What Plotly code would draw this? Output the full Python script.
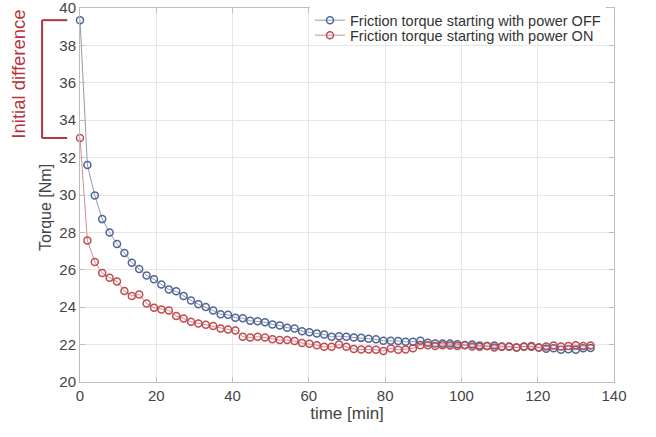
import plotly.graph_objects as go

time_min = [0.0, 1.94, 3.88, 5.82, 7.76, 9.7, 11.64, 13.58, 15.52, 17.46,
            19.4, 21.34, 23.28, 25.22, 27.16, 29.1, 31.04, 32.98, 34.92, 36.86,
            38.8, 40.74, 42.68, 44.62, 46.56, 48.5, 50.44, 52.38, 54.32, 56.26,
            58.2, 60.14, 62.08, 64.02, 65.96, 67.9, 69.84, 71.78, 73.72, 75.66,
            77.6, 79.54, 81.48, 83.42, 85.36, 87.3, 89.24, 91.18, 93.12, 95.06,
            97.0, 98.94, 100.88, 102.82, 104.76, 106.7, 108.64, 110.58, 112.52, 114.46,
            116.4, 118.34, 120.28, 122.22, 124.16, 126.1, 128.04, 129.98, 131.92, 133.86]

torque_power_off = [39.35, 31.61, 29.97, 28.71, 28.0, 27.38, 26.9, 26.38, 26.04, 25.69,
                    25.49, 25.22, 24.95, 24.85, 24.6, 24.36, 24.16, 24.01, 23.82, 23.62,
                    23.6, 23.44, 23.41, 23.27, 23.25, 23.2, 23.08, 23.02, 22.9, 22.86,
                    22.72, 22.66, 22.6, 22.54, 22.42, 22.45, 22.42, 22.38, 22.36, 22.31,
                    22.28, 22.2, 22.2, 22.19, 22.15, 22.15, 22.2, 22.1, 22.06, 22.06,
                    22.06, 22.02, 21.98, 22.0, 21.95, 21.92, 21.95, 21.9, 21.88, 21.85,
                    21.9, 21.88, 21.85, 21.78, 21.8, 21.72, 21.75, 21.72, 21.8, 21.82]

torque_power_on = [33.05, 27.57, 26.42, 25.83, 25.58, 25.37, 24.87, 24.6, 24.68, 24.2,
                   23.97, 23.88, 23.83, 23.53, 23.4, 23.22, 23.13, 23.06, 22.99, 22.86,
                   22.81, 22.76, 22.42, 22.38, 22.42, 22.38, 22.29, 22.24, 22.24, 22.19,
                   22.08, 22.04, 21.97, 21.88, 21.88, 22.0, 21.88, 21.76, 21.74, 21.74,
                   21.72, 21.66, 21.79, 21.72, 21.74, 21.8, 21.97, 21.97, 21.92, 21.97,
                   21.95, 21.93, 21.97, 21.9, 21.88, 21.92, 21.85, 21.88, 21.9, 21.85,
                   21.88, 21.92, 21.85, 21.9, 21.95, 21.9, 21.93, 21.97, 21.92, 21.95]

series_names = ["Friction torque starting with power OFF",
                "Friction torque starting with power ON"]
x_ticks = [0, 20, 40, 60, 80, 100, 120, 140]
y_ticks = [20, 22, 24, 26, 28, 30, 32, 34, 36, 38, 40]

BLUE = "#4f6596"
RED = "#c04a50"
FONT = "Liberation Sans, Arial, sans-serif"

fig = go.Figure()
fig.add_trace(go.Scatter(
    x=time_min, y=torque_power_off, name=series_names[0], mode="lines+markers",
    line=dict(color="rgba(125,135,160,0.85)", width=1),
    marker=dict(symbol="circle-open", size=7, color=BLUE, line=dict(width=1.5, color=BLUE)),
    cliponaxis=False, legend="legend",
))
fig.add_trace(go.Scatter(
    x=time_min, y=torque_power_on, name=series_names[1], mode="lines+markers",
    line=dict(color="rgba(200,120,125,0.85)", width=1),
    marker=dict(symbol="circle-open", size=7, color=RED, line=dict(width=1.5, color=RED)),
    cliponaxis=False, legend="legend2",
))

# Bracket showing initial difference (outside the plot area, tied to data values)
bx0, bx1 = -0.071, -0.024
ytop, ybot = torque_power_off[0], torque_power_on[0]
bracket_color = "#b5343c"
for (x0, y0, x1, y1) in [(bx0, ytop, bx0, ybot), (bx0, ytop, bx1, ytop), (bx0, ybot, bx1, ybot)]:
    fig.add_shape(type="line", xref="paper", yref="y", x0=x0, y0=y0, x1=x1, y1=y1,
                  line=dict(color=bracket_color, width=2), layer="above")

fig.add_annotation(text="Initial difference", xref="paper", yref="y",
                   x=-0.139, y=36.45, textangle=-90, showarrow=False,
                   font=dict(family=FONT, size=18.5, color=bracket_color))

# y-axis title (placed as in the reference, slightly below the axis centre)
fig.add_annotation(text="Torque [Nm]", xref="paper", yref="paper",
                   x=-0.065, xanchor="center", y=0.466, yanchor="middle",
                   textangle=-90, showarrow=False,
                   font=dict(family=FONT, size=16, color="#444444"))

axis_common = dict(
    showgrid=True, gridcolor="#e6e6e6", gridwidth=1,
    showline=True, linecolor="#bdbdbd", linewidth=1, mirror="ticks",
    ticks="inside", ticklen=5, tickcolor="#bdbdbd",
    tickfont=dict(family=FONT, size=15, color="#444444"),
    zeroline=False, automargin=False, ticklabeloverflow="allow",
)

legend_common = dict(xanchor="left", yanchor="top", x=0.4307, borderwidth=0,
                     font=dict(family=FONT, size=14.5, color="#333333"),
                     itemwidth=30)

fig.update_layout(
    width=656, height=437,
    margin=dict(l=80, r=42, t=8, b=55, autoexpand=False),
    paper_bgcolor="white", plot_bgcolor="white",
    font=dict(family=FONT, color="#444444"),
    showlegend=True,
    legend=dict(y=1.010, bgcolor="white", **legend_common),
    legend2=dict(y=0.970, bgcolor="rgba(255,255,255,0)", **legend_common),
    xaxis=dict(range=[0, 140], tickvals=x_ticks,
               title=dict(text="time [min]", font=dict(family=FONT, size=17, color="#444444"), standoff=3),
               **axis_common),
    yaxis=dict(range=[20, 40], tickvals=y_ticks, **axis_common),
)

fig.write_html("out.html", config={"displayModeBar": False},
               post_script="document.body.style.margin='0';")
